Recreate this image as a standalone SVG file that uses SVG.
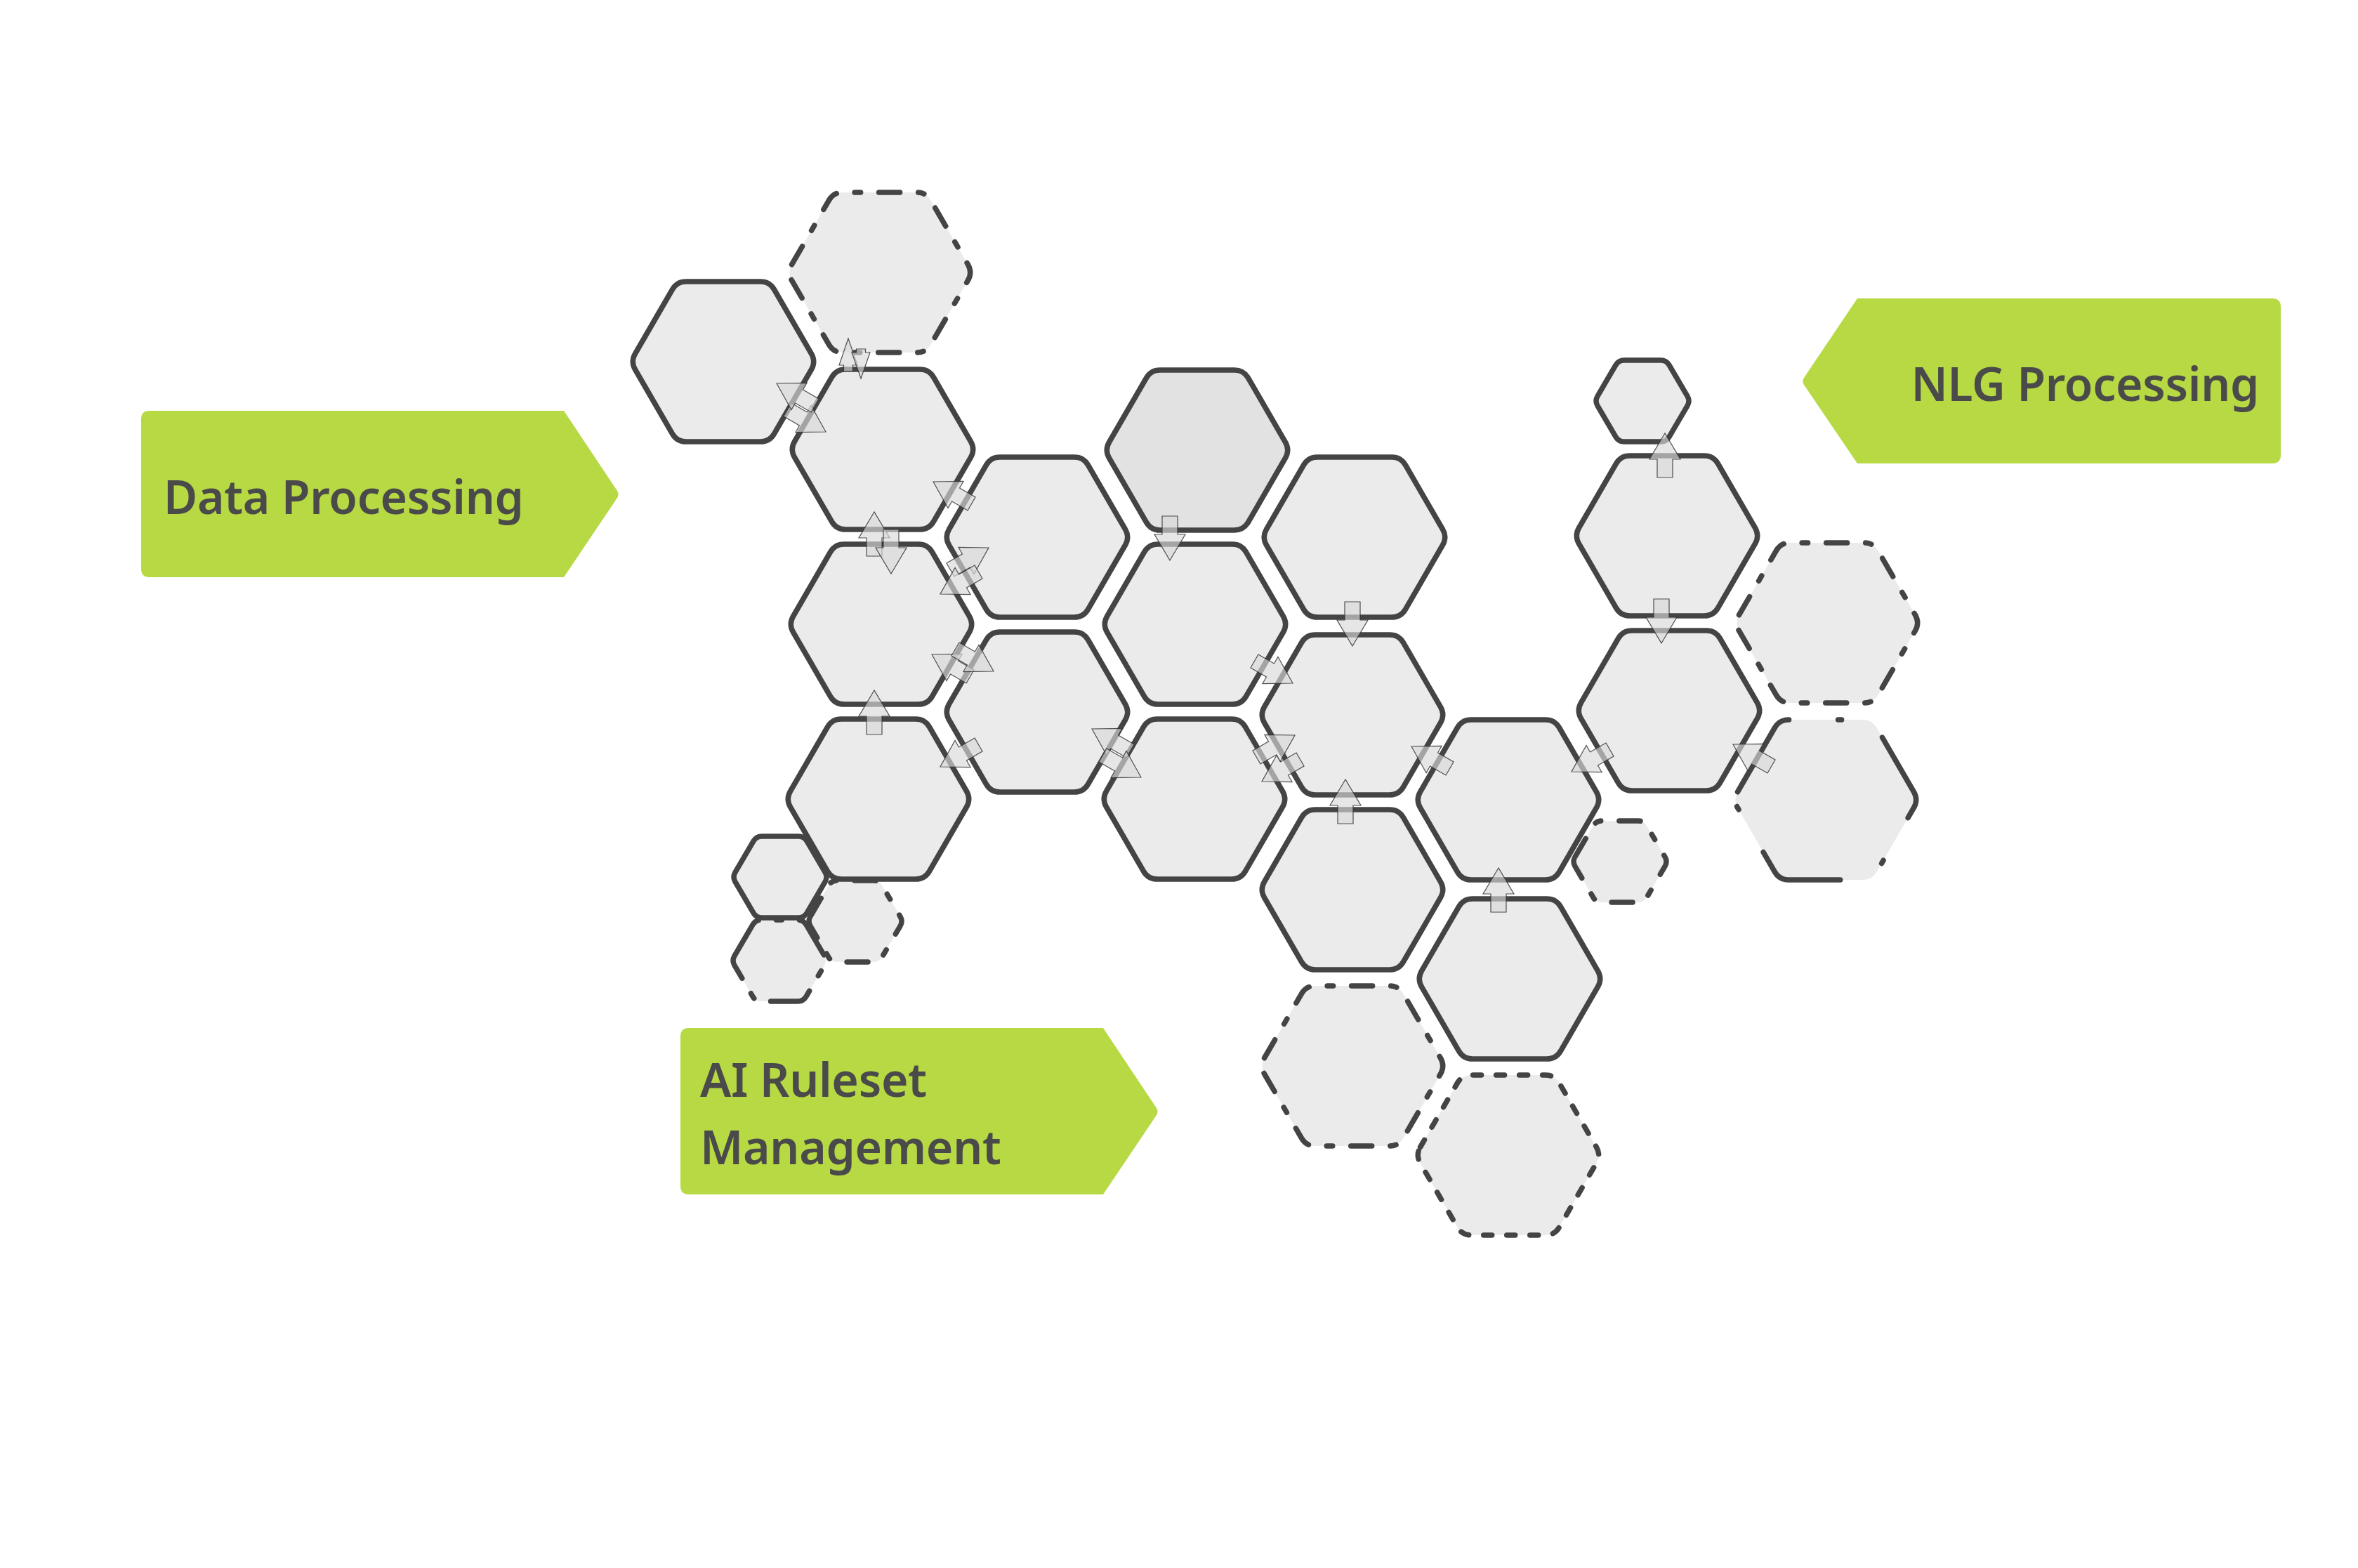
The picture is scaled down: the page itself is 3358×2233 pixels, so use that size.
<svg xmlns="http://www.w3.org/2000/svg" width="3358" height="2233" viewBox="0 0 3358 2233">
<style>
.hx{fill:#ebebeb;stroke:#444;stroke-width:7.5;stroke-linejoin:round;stroke-linecap:round}
.dk{fill:#e2e2e2}
.d1{stroke-dasharray:30 26 8.5 26}
.d2{stroke-dasharray:12 21}
.d3{stroke-dasharray:130 70 5 70}
.d4{stroke-dasharray:62 25 8 25}
.ar{fill:#d9d9d9;fill-opacity:0.65;stroke:#333;stroke-opacity:0.85;stroke-width:1.2;stroke-linejoin:miter}
.lb{fill:#b6d944}
.tx{font-family:"Noto Sans","Liberation Sans",sans-serif;font-weight:600;font-size:66px;letter-spacing:-0.3px;fill:#4a4a4a}
</style>
<rect width="3358" height="2233" fill="#ffffff"/>
<g id="nodes">
<g id="node-dt"><path class="hx d1" d="M1127.51,376.75 l52.97,-91.5 q6.51,-11.25 19.51,-11.25 h106 q13,0 19.51,11.25 l52.97,91.5 q6.51,11.25 0,22.5 l-52.97,91.5 q-6.51,11.25 -19.51,11.25 h-106 q-13,0 -19.51,-11.25 l-52.97,-91.5 q-6.51,-11.25 0,-22.5z"/></g>
<g id="node-t"><path class="hx d1" d="M2476.51,875.75 l52.97,-91.5 q6.51,-11.25 19.51,-11.25 h106 q13,0 19.51,11.25 l52.97,91.5 q6.51,11.25 0,22.5 l-52.97,91.5 q-6.51,11.25 -19.51,11.25 h-106 q-13,0 -19.51,-11.25 l-52.97,-91.5 q-6.51,-11.25 0,-22.5z"/></g>
<g id="node-u"><path class="hx d3" d="M2474.51,1127.75 l52.97,-91.5 q6.51,-11.25 19.51,-11.25 h106 q13,0 19.51,11.25 l52.97,91.5 q6.51,11.25 0,22.5 l-52.97,91.5 q-6.51,11.25 -19.51,11.25 h-106 q-13,0 -19.51,-11.25 l-52.97,-91.5 q-6.51,-11.25 0,-22.5z"/></g>
<g id="node-o"><path class="hx d1" d="M1800.51,1506.75 l52.97,-91.5 q6.51,-11.25 19.51,-11.25 h106 q13,0 19.51,11.25 l52.97,91.5 q6.51,11.25 0,22.5 l-52.97,91.5 q-6.51,11.25 -19.51,11.25 h-106 q-13,0 -19.51,-11.25 l-52.97,-91.5 q-6.51,-11.25 0,-22.5z"/></g>
<g id="node-p"><path class="hx d2" d="M2022.51,1633.75 l52.97,-91.5 q6.51,-11.25 19.51,-11.25 h106 q13,0 19.51,11.25 l52.97,91.5 q6.51,11.25 0,22.5 l-52.97,91.5 q-6.51,11.25 -19.51,11.25 h-106 q-13,0 -19.51,-11.25 l-52.97,-91.5 q-6.51,-11.25 0,-22.5z"/></g>
<g id="node-v"><path class="hx d1" d="M2243.05,1220.1 l25.91,-44.2 q4.05,-6.9 12.05,-6.9 h52 q8,0 12.05,6.9 l25.91,44.2 q4.05,6.9 0,13.8 l-25.91,44.2 q-4.05,6.9 -12.05,6.9 h-52 q-8,0 -12.05,-6.9 l-25.91,-44.2 q-4.05,-6.9 0,-13.8z"/></g>
<g id="node-x"><path class="hx d1" d="M1154.05,1305.1 l25.91,-44.2 q4.05,-6.9 12.05,-6.9 h52 q8,0 12.05,6.9 l25.91,44.2 q4.05,6.9 0,13.8 l-25.91,44.2 q-4.05,6.9 -12.05,6.9 h-52 q-8,0 -12.05,-6.9 l-25.91,-44.2 q-4.05,-6.9 0,-13.8z"/></g>
<g id="node-y"><path class="hx d4" d="M1046.05,1361.1 l25.91,-44.2 q4.05,-6.9 12.05,-6.9 h52 q8,0 12.05,6.9 l25.91,44.2 q4.05,6.9 0,13.8 l-25.91,44.2 q-4.05,6.9 -12.05,6.9 h-52 q-8,0 -12.05,-6.9 l-25.91,-44.2 q-4.05,-6.9 0,-13.8z"/></g>
<g id="node-w"><path class="hx" d="M1047.05,1242.1 l25.91,-44.2 q4.05,-6.9 12.05,-6.9 h52 q8,0 12.05,6.9 l25.91,44.2 q4.05,6.9 0,13.8 l-25.91,44.2 q-4.05,6.9 -12.05,6.9 h-52 q-8,0 -12.05,-6.9 l-25.91,-44.2 q-4.05,-6.9 0,-13.8z"/></g>
<g id="node-q"><path class="hx" d="M2275.05,564.1 l25.91,-44.2 q4.05,-6.9 12.05,-6.9 h52 q8,0 12.05,6.9 l25.91,44.2 q4.05,6.9 0,13.8 l-25.91,44.2 q-4.05,6.9 -12.05,6.9 h-52 q-8,0 -12.05,-6.9 l-25.91,-44.2 q-4.05,-6.9 0,-13.8z"/></g>
<g id="node-a"><path class="hx" d="M904.51,503.75 l52.97,-91.5 q6.51,-11.25 19.51,-11.25 h106 q13,0 19.51,11.25 l52.97,91.5 q6.51,11.25 0,22.5 l-52.97,91.5 q-6.51,11.25 -19.51,11.25 h-106 q-13,0 -19.51,-11.25 l-52.97,-91.5 q-6.51,-11.25 0,-22.5z"/></g>
<g id="node-b"><path class="hx" d="M1131.51,628.75 l52.97,-91.5 q6.51,-11.25 19.51,-11.25 h106 q13,0 19.51,11.25 l52.97,91.5 q6.51,11.25 0,22.5 l-52.97,91.5 q-6.51,11.25 -19.51,11.25 h-106 q-13,0 -19.51,-11.25 l-52.97,-91.5 q-6.51,-11.25 0,-22.5z"/></g>
<g id="node-c"><path class="hx" d="M1351.51,753.75 l52.97,-91.5 q6.51,-11.25 19.51,-11.25 h106 q13,0 19.51,11.25 l52.97,91.5 q6.51,11.25 0,22.5 l-52.97,91.5 q-6.51,11.25 -19.51,11.25 h-106 q-13,0 -19.51,-11.25 l-52.97,-91.5 q-6.51,-11.25 0,-22.5z"/></g>
<g id="node-d"><path class="hx dk" d="M1579.51,629.75 l52.97,-91.5 q6.51,-11.25 19.51,-11.25 h106 q13,0 19.51,11.25 l52.97,91.5 q6.51,11.25 0,22.5 l-52.97,91.5 q-6.51,11.25 -19.51,11.25 h-106 q-13,0 -19.51,-11.25 l-52.97,-91.5 q-6.51,-11.25 0,-22.5z"/></g>
<g id="node-e"><path class="hx" d="M1803.51,753.75 l52.97,-91.5 q6.51,-11.25 19.51,-11.25 h106 q13,0 19.51,11.25 l52.97,91.5 q6.51,11.25 0,22.5 l-52.97,91.5 q-6.51,11.25 -19.51,11.25 h-106 q-13,0 -19.51,-11.25 l-52.97,-91.5 q-6.51,-11.25 0,-22.5z"/></g>
<g id="node-f"><path class="hx" d="M1129.51,877.75 l52.97,-91.5 q6.51,-11.25 19.51,-11.25 h106 q13,0 19.51,11.25 l52.97,91.5 q6.51,11.25 0,22.5 l-52.97,91.5 q-6.51,11.25 -19.51,11.25 h-106 q-13,0 -19.51,-11.25 l-52.97,-91.5 q-6.51,-11.25 0,-22.5z"/></g>
<g id="node-g"><path class="hx" d="M1576.51,877.75 l52.97,-91.5 q6.51,-11.25 19.51,-11.25 h106 q13,0 19.51,11.25 l52.97,91.5 q6.51,11.25 0,22.5 l-52.97,91.5 q-6.51,11.25 -19.51,11.25 h-106 q-13,0 -19.51,-11.25 l-52.97,-91.5 q-6.51,-11.25 0,-22.5z"/></g>
<g id="node-h"><path class="hx" d="M1351.51,1002.75 l52.97,-91.5 q6.51,-11.25 19.51,-11.25 h106 q13,0 19.51,11.25 l52.97,91.5 q6.51,11.25 0,22.5 l-52.97,91.5 q-6.51,11.25 -19.51,11.25 h-106 q-13,0 -19.51,-11.25 l-52.97,-91.5 q-6.51,-11.25 0,-22.5z"/></g>
<g id="node-i"><path class="hx" d="M1800.51,1006.75 l52.97,-91.5 q6.51,-11.25 19.51,-11.25 h106 q13,0 19.51,11.25 l52.97,91.5 q6.51,11.25 0,22.5 l-52.97,91.5 q-6.51,11.25 -19.51,11.25 h-106 q-13,0 -19.51,-11.25 l-52.97,-91.5 q-6.51,-11.25 0,-22.5z"/></g>
<g id="node-j"><path class="hx" d="M1125.51,1126.75 l52.97,-91.5 q6.51,-11.25 19.51,-11.25 h106 q13,0 19.51,11.25 l52.97,91.5 q6.51,11.25 0,22.5 l-52.97,91.5 q-6.51,11.25 -19.51,11.25 h-106 q-13,0 -19.51,-11.25 l-52.97,-91.5 q-6.51,-11.25 0,-22.5z"/></g>
<g id="node-k"><path class="hx" d="M1575.51,1126.75 l52.97,-91.5 q6.51,-11.25 19.51,-11.25 h106 q13,0 19.51,11.25 l52.97,91.5 q6.51,11.25 0,22.5 l-52.97,91.5 q-6.51,11.25 -19.51,11.25 h-106 q-13,0 -19.51,-11.25 l-52.97,-91.5 q-6.51,-11.25 0,-22.5z"/></g>
<g id="node-l"><path class="hx" d="M2022.51,1127.75 l52.97,-91.5 q6.51,-11.25 19.51,-11.25 h106 q13,0 19.51,11.25 l52.97,91.5 q6.51,11.25 0,22.5 l-52.97,91.5 q-6.51,11.25 -19.51,11.25 h-106 q-13,0 -19.51,-11.25 l-52.97,-91.5 q-6.51,-11.25 0,-22.5z"/></g>
<g id="node-m"><path class="hx" d="M1800.51,1255.75 l52.97,-91.5 q6.51,-11.25 19.51,-11.25 h106 q13,0 19.51,11.25 l52.97,91.5 q6.51,11.25 0,22.5 l-52.97,91.5 q-6.51,11.25 -19.51,11.25 h-106 q-13,0 -19.51,-11.25 l-52.97,-91.5 q-6.51,-11.25 0,-22.5z"/></g>
<g id="node-n"><path class="hx" d="M2024.51,1382.75 l52.97,-91.5 q6.51,-11.25 19.51,-11.25 h106 q13,0 19.51,11.25 l52.97,91.5 q6.51,11.25 0,22.5 l-52.97,91.5 q-6.51,11.25 -19.51,11.25 h-106 q-13,0 -19.51,-11.25 l-52.97,-91.5 q-6.51,-11.25 0,-22.5z"/></g>
<g id="node-r"><path class="hx" d="M2248.51,751.75 l52.97,-91.5 q6.51,-11.25 19.51,-11.25 h106 q13,0 19.51,11.25 l52.97,91.5 q6.51,11.25 0,22.5 l-52.97,91.5 q-6.51,11.25 -19.51,11.25 h-106 q-13,0 -19.51,-11.25 l-52.97,-91.5 q-6.51,-11.25 0,-22.5z"/></g>
<g id="node-s"><path class="hx" d="M2251.51,1000.75 l52.97,-91.5 q6.51,-11.25 19.51,-11.25 h106 q13,0 19.51,11.25 l52.97,91.5 q6.51,11.25 0,22.5 l-52.97,91.5 q-6.51,11.25 -19.51,11.25 h-106 q-13,0 -19.51,-11.25 l-52.97,-91.5 q-6.51,-11.25 0,-22.5z"/></g>
</g>
<g id="connectors">
<polygon class="ar" points="0,0 -38,-13 -38,-6.5 -47,-6.5 -47,6.5 -38,6.5 -38,13" transform="translate(1208,482) rotate(-90)"/>
<polygon class="ar" points="0,0 -37,-13 -37,-6.5 -42,-6.5 -42,6.5 -37,6.5 -37,13" transform="translate(1226,539) rotate(90)"/>
<polygon class="ar" points="0,0 -37,-22 -37,-11 -63,-11 -63,11 -37,11 -37,22" transform="translate(1176,615) rotate(30)"/>
<polygon class="ar" points="0,0 -37,-22 -37,-11 -63,-11 -63,11 -37,11 -37,22" transform="translate(1106,546) rotate(210)"/>
<polygon class="ar" points="0,0 -37,-22 -37,-11 -63,-11 -63,11 -37,11 -37,22" transform="translate(1329,686) rotate(210)"/>
<polygon class="ar" points="0,0 -37,-22 -37,-11 -63,-11 -63,11 -37,11 -37,22" transform="translate(1245,729) rotate(-90)"/>
<polygon class="ar" points="0,0 -37,-22 -37,-11 -63,-11 -63,11 -37,11 -37,22" transform="translate(1269,817) rotate(90)"/>
<polygon class="ar" points="0,0 -37,-22 -37,-11 -63,-11 -63,11 -37,11 -37,22" transform="translate(1408,780) rotate(-30)"/>
<polygon class="ar" points="0,0 -37,-22 -37,-11 -63,-11 -63,11 -37,11 -37,22" transform="translate(1339,846) rotate(150)"/>
<polygon class="ar" points="0,0 -37,-22 -37,-11 -63,-11 -63,11 -37,11 -37,22" transform="translate(1327,932) rotate(210)"/>
<polygon class="ar" points="0,0 -37,-22 -37,-11 -63,-11 -63,11 -37,11 -37,22" transform="translate(1415,956) rotate(30)"/>
<polygon class="ar" points="0,0 -37,-22 -37,-11 -63,-11 -63,11 -37,11 -37,22" transform="translate(1245,983) rotate(-90)"/>
<polygon class="ar" points="0,0 -37,-22 -37,-11 -63,-11 -63,11 -37,11 -37,22" transform="translate(1339,1092) rotate(150)"/>
<polygon class="ar" points="0,0 -37,-22 -37,-11 -63,-11 -63,11 -37,11 -37,22" transform="translate(1555,1038) rotate(210)"/>
<polygon class="ar" points="0,0 -37,-22 -37,-11 -63,-11 -63,11 -37,11 -37,22" transform="translate(1625,1107) rotate(30)"/>
<polygon class="ar" points="0,0 -37,-22 -37,-11 -63,-11 -63,11 -37,11 -37,22" transform="translate(1666,798) rotate(90)"/>
<polygon class="ar" points="0,0 -37,-22 -37,-11 -63,-11 -63,11 -37,11 -37,22" transform="translate(1926,920) rotate(90)"/>
<polygon class="ar" points="0,0 -37,-22 -37,-11 -63,-11 -63,11 -37,11 -37,22" transform="translate(1841,973) rotate(30)"/>
<polygon class="ar" points="0,0 -37,-22 -37,-11 -63,-11 -63,11 -37,11 -37,22" transform="translate(1844,1047) rotate(-30)"/>
<polygon class="ar" points="0,0 -37,-22 -37,-11 -63,-11 -63,11 -37,11 -37,22" transform="translate(1797,1113) rotate(150)"/>
<polygon class="ar" points="0,0 -37,-22 -37,-11 -63,-11 -63,11 -37,11 -37,22" transform="translate(1916,1110) rotate(-90)"/>
<polygon class="ar" points="0,0 -37,-22 -37,-11 -63,-11 -63,11 -37,11 -37,22" transform="translate(2010,1063) rotate(210)"/>
<polygon class="ar" points="0,0 -37,-22 -37,-11 -63,-11 -63,11 -37,11 -37,22" transform="translate(2134,1236) rotate(-90)"/>
<polygon class="ar" points="0,0 -37,-22 -37,-11 -63,-11 -63,11 -37,11 -37,22" transform="translate(2238,1099) rotate(150)"/>
<polygon class="ar" points="0,0 -37,-22 -37,-11 -63,-11 -63,11 -37,11 -37,22" transform="translate(2468,1060) rotate(210)"/>
<polygon class="ar" points="0,0 -37,-22 -37,-11 -63,-11 -63,11 -37,11 -37,22" transform="translate(2371,617) rotate(-90)"/>
<polygon class="ar" points="0,0 -37,-22 -37,-11 -63,-11 -63,11 -37,11 -37,22" transform="translate(2366,916) rotate(90)"/>
</g>
<g id="label-data">
<path class="lb" d="M213,585 H803 L879,699 Q882,704 879,709 L803,822 H213 Q201,822 201,810 V597 Q201,585 213,585 Z"/>
<text class="tx" x="233" y="732">Data Processing</text>
</g>
<g id="label-nlg">
<path class="lb" d="M2645,425 H3236 Q3248,425 3248,437 V648 Q3248,660 3236,660 H2645 L2569,548 Q2566,543 2569,538 Z"/>
<text class="tx" x="3217" y="571" text-anchor="end">NLG Processing</text>
</g>
<g id="label-ai">
<path class="lb" d="M981,1464 H1571 L1647,1578 Q1650,1583 1647,1588 L1571,1701 H981 Q969,1701 969,1689 V1476 Q969,1464 981,1464 Z"/>
<text class="tx" x="997" y="1562">AI Ruleset</text>
<text class="tx" x="997" y="1658">Management</text>
</g>
</svg>
